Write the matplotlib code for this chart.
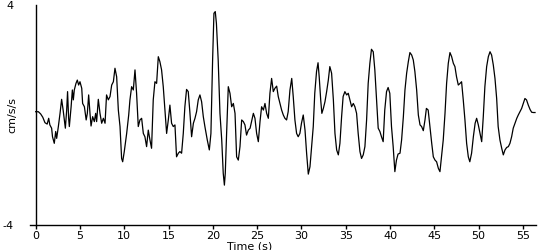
import matplotlib
matplotlib.use("Agg")
import matplotlib.pyplot as plt

# Time (s) and acceleration (cm/s/s)
time = [0.0, 0.3, 0.56, 0.8, 1.05, 1.3, 1.47, 1.6, 1.8, 1.9, 2.1, 2.26, 2.37, 2.56, 2.75, 2.93,
        3.1, 3.35, 3.5, 3.6, 3.72, 3.8, 4.0, 4.14, 4.25, 4.36, 4.55, 4.7, 4.85, 5.0, 5.2, 5.3,
        5.5, 5.7, 5.83, 5.98, 6.13, 6.25, 6.43, 6.62, 6.77, 6.88, 7.07, 7.26, 7.45, 7.64, 7.83,
        8.0, 8.2, 8.39, 8.58, 8.77, 8.95, 9.14, 9.33, 9.52, 9.7, 9.82, 10.0, 10.27, 10.5,
        10.64, 10.83, 11.02, 11.21, 11.39, 11.58, 11.77, 11.96, 12.15, 12.33, 12.52, 12.71,
        12.9, 13.08, 13.27, 13.46, 13.65, 13.84, 14.02, 14.21, 14.4, 14.59, 14.78, 14.97,
        15.15, 15.34, 15.53, 15.72, 15.9, 16.1, 16.28, 16.47, 16.66, 16.84, 17.03, 17.22,
        17.4, 17.6, 17.8, 17.98, 18.16, 18.35, 18.54, 18.73, 18.92, 19.1, 19.37, 19.6, 19.78,
        19.97, 20.12, 20.27, 20.4, 20.6, 20.8, 21.0, 21.17, 21.3, 21.4, 21.55, 21.74, 21.93,
        22.12, 22.31, 22.5, 22.68, 22.87, 23.06, 23.25, 23.44, 23.62, 23.8, 24.0, 24.2, 24.4,
        24.57, 24.75, 24.94, 25.13, 25.32, 25.5, 25.7, 25.88, 26.07, 26.26, 26.44, 26.63,
        26.82, 27.0, 27.2, 27.38, 27.57, 27.76, 27.95, 28.13, 28.32, 28.5, 28.7, 28.9, 29.07,
        29.26, 29.45, 29.63, 29.82, 30.0, 30.2, 30.4, 30.58, 30.77, 30.96, 31.15, 31.33, 31.5,
        31.7, 31.87, 32.0, 32.17, 32.3, 32.47, 32.65, 32.84, 33.03, 33.2, 33.4, 33.6, 33.78,
        33.97, 34.16, 34.34, 34.53, 34.7, 34.9, 35.1, 35.28, 35.47, 35.66, 35.85, 36.03, 36.22,
        36.4, 36.6, 36.78, 36.97, 37.16, 37.35, 37.53, 37.72, 37.9, 38.1, 38.28, 38.47, 38.66,
        38.85, 39.03, 39.22, 39.4, 39.6, 39.78, 39.97, 40.16, 40.35, 40.54, 40.72, 40.9, 41.12,
        41.3, 41.5, 41.68, 41.87, 42.06, 42.24, 42.44, 42.62, 42.8, 43.0, 43.19, 43.38, 43.56,
        43.75, 43.94, 44.1, 44.3, 44.5, 44.7, 44.88, 45.07, 45.25, 45.45, 45.63, 45.8, 46.0,
        46.2, 46.38, 46.57, 46.76, 46.95, 47.14, 47.32, 47.5, 47.7, 47.9, 48.07, 48.26, 48.45,
        48.64, 48.83, 49.0, 49.2, 49.4, 49.6, 49.77, 49.96, 50.15, 50.34, 50.52, 50.7, 50.9,
        51.09, 51.28, 51.46, 51.65, 51.84, 52.03, 52.2, 52.4, 52.6, 52.78, 52.97, 53.16, 53.35,
        53.53, 53.72, 53.9, 54.1, 54.3, 54.47, 54.66, 54.85, 55.04, 55.22, 55.4, 55.6, 55.8,
        55.98, 56.17, 56.36]
accel = [0.12, 0.12, 0.04, -0.08, -0.28, -0.33, -0.12, -0.36, -0.48, -0.79, -1.03, -0.6, -0.85,
         -0.42, 0.06, 0.57, 0.18, -0.48, 0.18, 0.85, -0.12, -0.42, 0.3, 0.91, 0.55, 0.91, 1.15,
         1.27, 1.09, 1.21, 0.97, 0.42, 0.3, -0.18, 0.06, 0.73, 0.06, -0.4, -0.06, -0.24, 0.06,
         -0.24, 0.57, 0.06, -0.3, -0.12, -0.3, 0.73, 0.55, 0.67, 1.09, 1.21, 1.7, 1.39, 0.18,
         -0.42, -1.58, -1.7, -1.33, -0.67, 0.0,
         0.55, 1.03, 0.91, 1.64, 0.79, -0.42, -0.18, -0.12, -0.67, -0.79, -1.15, -0.55,
         -0.91, -1.21, 0.55, 1.21, 1.15, 2.12, 1.94, 1.64, 1.03, 0.18, -0.67, -0.18,
         0.36, -0.3, -0.42, -0.36, -1.52, -1.39, -1.33, -1.39, -0.67, 0.3, 0.93, 0.85,
         0.12, -0.79, -0.3, -0.12, 0.12, 0.55, 0.73, 0.48, -0.06, -0.42, -0.91, -1.27, -0.67,
         2.0, 3.7, 3.76, 3.33, 2.0, 0.06, -0.91, -2.12, -2.55, -2.12, -0.67, 1.03, 0.79,
         0.3, 0.42, 0.06, -1.52, -1.64, -1.15, -0.18, -0.24, -0.36, -0.73, -0.55, -0.48, -0.18,
         0.06, -0.12, -0.67, -0.97, -0.24, 0.3, 0.18, 0.42, 0.06, -0.12, 0.79, 1.33,
         0.85, 0.97, 1.05, 0.67, 0.42, 0.18, 0.0, -0.12, -0.18, 0.12, 0.91, 1.33, 0.67,
         -0.18, -0.67, -0.79, -0.67, -0.3, 0.0, -0.55, -1.39, -2.15, -1.88, -1.15, -0.42, 0.79,
         1.58, 1.9, 1.39, 0.55, 0.06, 0.24, 0.48, 0.85, 1.27, 1.76, 1.52, 0.55, -0.67,
         -1.27, -1.45, -1.03, -0.06, 0.67, 0.85, 0.73, 0.79, 0.55, 0.3, 0.42, 0.3, 0.06,
         -0.67, -1.33, -1.58, -1.45, -1.15, -0.18, 1.15, 1.88, 2.39, 2.3, 1.64, 0.55, -0.48,
         -0.6, -0.79, -0.97, 0.18, 0.85, 1.0, 0.79, -0.42, -1.15, -2.06, -1.64, -1.42, -1.39,
         -0.91, -0.06, 0.91, 1.52, 1.94, 2.27, 2.18, 2.0, 1.58, 0.91, 0.0, -0.36, -0.42,
         -0.57, -0.18, 0.24, 0.18, -0.42, -1.03, -1.52, -1.64, -1.7, -1.94, -2.06, -1.52, -0.91,
         0.06, 1.15, 1.88, 2.27, 2.12, 1.88, 1.76, 1.39, 1.09, 1.15, 1.21, 0.55, -0.18,
         -1.03, -1.52, -1.7, -1.39, -0.79, -0.3, -0.12, -0.36, -0.67, -0.97, -0.06, 1.03, 1.76,
         2.12, 2.3, 2.18, 1.82, 1.33, 0.6, -0.42, -0.91, -1.21, -1.45, -1.27, -1.18, -1.15,
         -1.03, -0.79, -0.48, -0.3, -0.12, 0.0, 0.12, 0.24, 0.42, 0.6, 0.55, 0.36, 0.2,
         0.1, 0.09, 0.09]

xticks = [0, 5, 10, 15, 20, 25, 30, 35, 40, 45, 50, 55]
yticks = [-4, 4]

plt.rcParams['font.family'] = ['DejaVu Sans']
fig = plt.figure(figsize=(5.5, 2.5), dpi=100)
ax = fig.add_axes([30/550, 25/250, (536-30)/550, (225-5)/250])

ax.plot(time, accel, color='black', lw=0.9)
ax.plot([0, 0], [-4, 4], color='black', lw=1.0, clip_on=False)

ax.set_xlim(-0.64, 56.47)
ax.set_ylim(-4, 4)
for s in ['top', 'right', 'left']:
    ax.spines[s].set_visible(False)
ax.spines['bottom'].set_linewidth(1.0)

ax.set_xticks(xticks)
ax.set_xticklabels([str(t) for t in xticks], fontsize=8)
ax.tick_params(axis='x', direction='out', length=3, width=1, pad=1.5)
ax.set_yticks(yticks)
ax.set_yticklabels([str(t) for t in yticks], fontsize=8)
ax.tick_params(axis='y', length=0, pad=12)

ax.set_xlabel('Time (s)', fontsize=8)
ax.xaxis.set_label_coords(0.435, -0.075)
ax.set_ylabel('cm/s/s', fontsize=8)
ax.yaxis.set_label_coords(-0.025, 0.5)

fig.savefig('out.png', dpi=100)
